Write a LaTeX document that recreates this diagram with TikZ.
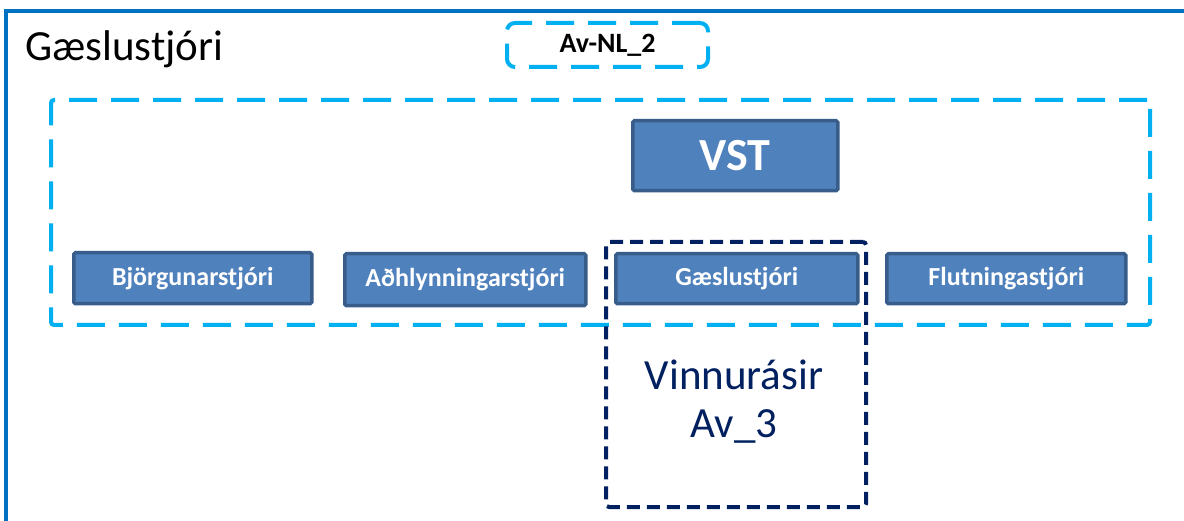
\documentclass[tikz,border=0pt]{standalone}
\usepackage{fontspec}
\setmainfont{Carlito}
\definecolor{outerblue}{HTML}{0070C0}
\definecolor{cyanline}{HTML}{00B0F0}
\definecolor{boxfill}{HTML}{4F81BD}
\definecolor{boxedge}{HTML}{385D8A}
\definecolor{navy}{HTML}{002060}
\begin{document}
\begin{tikzpicture}[x=1pt,y=-1pt,
  rolebox/.style={draw=boxedge, fill=boxfill, line width=3.5pt, text=white, rounded corners=1.5pt,
    font=\bfseries\fontsize{26}{30}\selectfont, inner sep=0pt, anchor=north west},
  cyandash/.style={draw=cyanline, line width=4pt, dash pattern=on 28pt off 14pt, rounded corners=3pt},
  navydash/.style={draw=navy, line width=4pt, dash pattern=on 13pt off 7pt, rounded corners=3pt}]
\useasboundingbox (0,0) rectangle (1184,521);
\clip (0,0) rectangle (1184,521);
\fill[white] (0,0) rectangle (1184,521);
% outer frame
\draw[outerblue, line width=4pt] (6,11) rectangle (1210,560);
\node[anchor=base west, inner sep=0pt, font=\fontsize{43}{50}\selectfont] (title) at (25,61) {Gæslustjóri};
% Av-NL_2
\node[cyandash, rounded corners=8pt, minimum width=201pt, minimum height=44pt, inner sep=0pt,
  font=\bfseries\fontsize{28}{32}\selectfont] (avnl) at (607.5,45) {Av-NL\_2};
% big cyan dashed group
\node[cyandash, minimum width=1099pt, minimum height=225pt, inner sep=0pt, anchor=north west] (grp) at (49,98) {};
% VST
\node[rolebox, minimum width=205pt, minimum height=70pt, font=\bfseries\fontsize{46}{50}\selectfont] (vst) at (631,119) {VST};
% role boxes
\node[rolebox, minimum width=238pt, minimum height=51pt] (bjorg) at (72,251) {Björgunarstjóri};
\node[rolebox, minimum width=241pt, minimum height=52pt] (adhl) at (343,252) {Aðhlynningarstjóri};
\node[rolebox, minimum width=242pt, minimum height=50pt] (gaesl) at (614,252) {Gæslustjóri};
\node[rolebox, minimum width=239pt, minimum height=50pt] (flutn) at (885,252) {Flutningastjóri};
% navy dashed work channel
\node[navydash, minimum width=260pt, minimum height=265pt, inner sep=0pt, anchor=north west] (vinn) at (604,240) {};
\node[align=center, text=navy, font=\fontsize{43}{48}\selectfont, inner sep=0pt] (vinntxt) at (734,402) {Vinnurásir\\Av\_3};
\end{tikzpicture}
\end{document}
